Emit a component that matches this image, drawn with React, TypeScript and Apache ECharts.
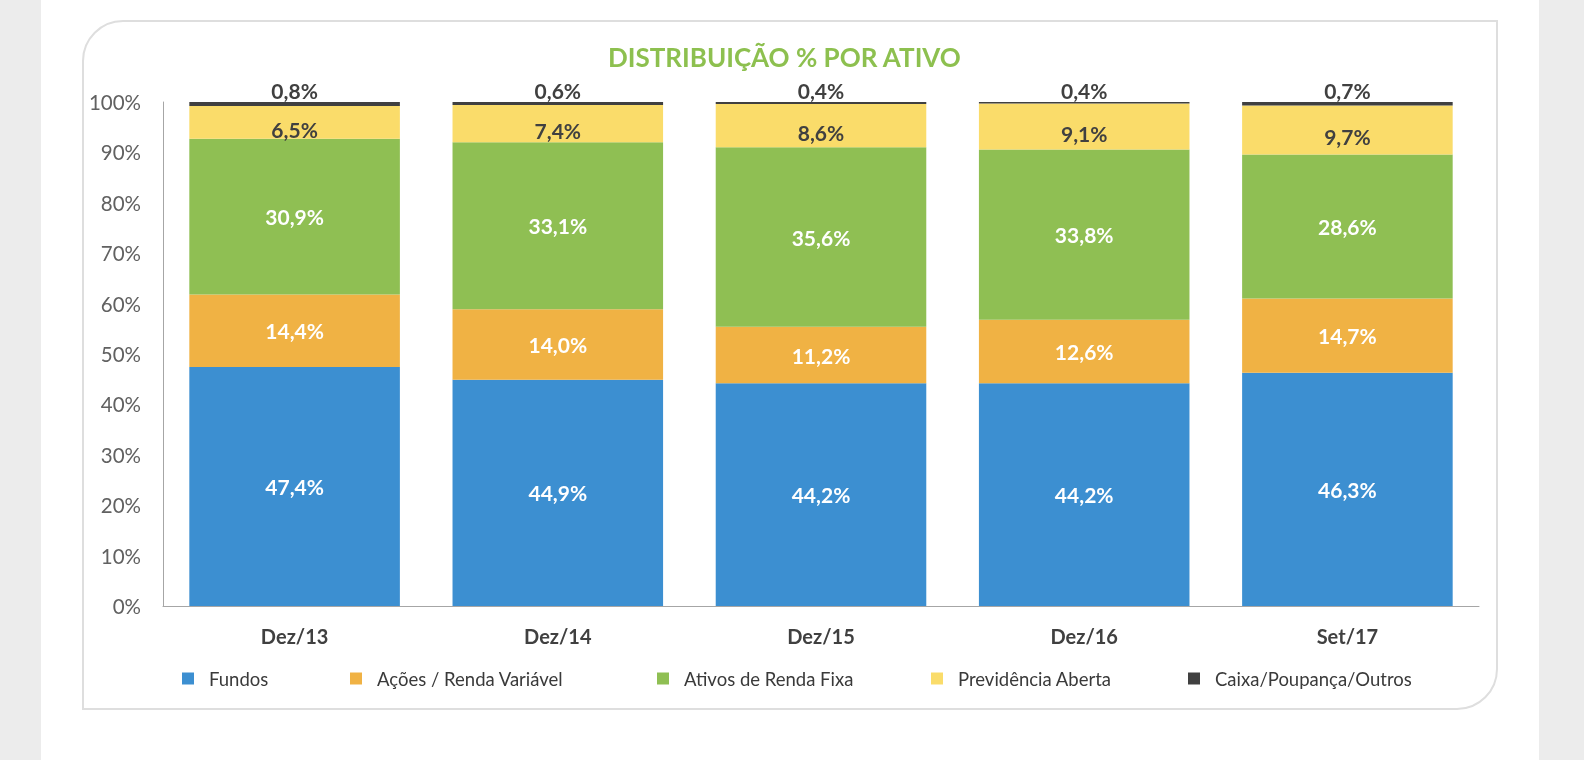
import React, { useEffect, useRef } from 'react';
import * as echarts from 'echarts';

const categories = ['Dez/13', 'Dez/14', 'Dez/15', 'Dez/16', 'Set/17'];
const fundos = [47.4, 44.9, 44.2, 44.2, 46.3];
const acoes = [14.4, 14.0, 11.2, 12.6, 14.7];
const rendaFixa = [30.9, 33.1, 35.6, 33.8, 28.6];
const previdencia = [6.5, 7.4, 8.6, 9.1, 9.7];
const caixa = [0.8, 0.6, 0.4, 0.4, 0.7];
const seriesNames = ['Fundos', 'Ações / Renda Variável', 'Ativos de Renda Fixa', 'Previdência Aberta', 'Caixa/Poupança/Outros'];
const titleText = 'DISTRIBUIÇÃO % POR ATIVO';

const FONT = 'Lato, "Open Sans", sans-serif';
const colors = ['#3c8fd1', '#f0b244', '#8fbf53', '#fadc6a', '#404040'];
const fmt = (v: number) => v.toFixed(1).replace('.', ',') + '%';

export default function App() {
  const ref = useRef<HTMLDivElement>(null);
  useEffect(() => {
    if (!ref.current) return;
    const chart = echarts.init(ref.current, null, { renderer: 'svg' });
    const data = [fundos, acoes, rendaFixa, previdencia, caixa];
    const legendLefts = [182, 350, 657, 931, 1188];
    const series = data.map((d, i) => {
      const label: any = {
        show: true,
        fontFamily: FONT,
        fontWeight: 'bold',
        fontSize: 21,
        formatter: (p: any) => fmt(p.value),
      };
      if (i < 3) {
        label.position = 'inside';
        label.color = '#ffffff';
      } else if (i === 3) {
        label.position = 'inside';
        label.color = '#404040';
        label.offset = [0, 7];
      } else {
        label.position = 'top';
        label.color = '#404040';
        label.distance = 1;
      }
      return {
        name: seriesNames[i],
        type: 'bar',
        stack: 'total',
        data: d,
        barWidth: '80%',
        itemStyle: { color: colors[i] },
        label,
      };
    });
    chart.setOption({
      animation: false,
      textStyle: { fontFamily: FONT },
      graphic: [
        { type: 'rect', z: -10, silent: true, shape: { x: 0, y: 0, width: 1584, height: 760 }, style: { fill: '#ececec' } },
        { type: 'rect', z: -9, silent: true, shape: { x: 41, y: 0, width: 1498, height: 760 }, style: { fill: '#ffffff' } },
        {
          type: 'rect', z: -8, silent: true,
          shape: { x: 83, y: 21, width: 1414, height: 688, r: [40, 0, 40, 0] },
          style: { fill: '#ffffff', stroke: '#dedede', lineWidth: 2 },
        },
      ],
      title: {
        text: titleText,
        left: 603,
        top: 39,
        textStyle: { fontFamily: FONT, fontWeight: 'bold', fontSize: 26, color: '#8dc04f' },
      },
      legend: seriesNames.map((n, i) => ({
        data: [n],
        left: legendLefts[i],
        top: 669,
        padding: 0,
        icon: 'rect',
        itemWidth: 12,
        itemHeight: 12,
        textStyle: { fontFamily: FONT, fontSize: 18.5, color: '#3a3a3a', padding: [0, 0, 0, 10] },
        selectedMode: false,
      })),
      grid: { left: 163, right: 105, top: 102, bottom: 154, containLabel: false },
      xAxis: {
        type: 'category',
        data: categories,
        axisLine: { show: true, lineStyle: { color: '#a6a6a6', width: 1 } },
        axisTick: { show: false },
        axisLabel: { fontFamily: FONT, fontWeight: 'bold', fontSize: 20, color: '#404040', margin: 20 },
      },
      yAxis: {
        type: 'value',
        min: 0,
        max: 100,
        interval: 10,
        axisLine: { show: true, lineStyle: { color: '#a6a6a6', width: 1 } },
        axisTick: { show: false },
        splitLine: { show: false },
        axisLabel: { fontFamily: FONT, fontSize: 20.5, color: '#616161', margin: 22, formatter: (v: number) => v + '%' },
      },
      series,
    });
    return () => chart.dispose();
  }, []);
  return <div ref={ref} style={{ position: 'fixed', left: 0, top: 0, width: 1584, height: 760 }} />;
}
